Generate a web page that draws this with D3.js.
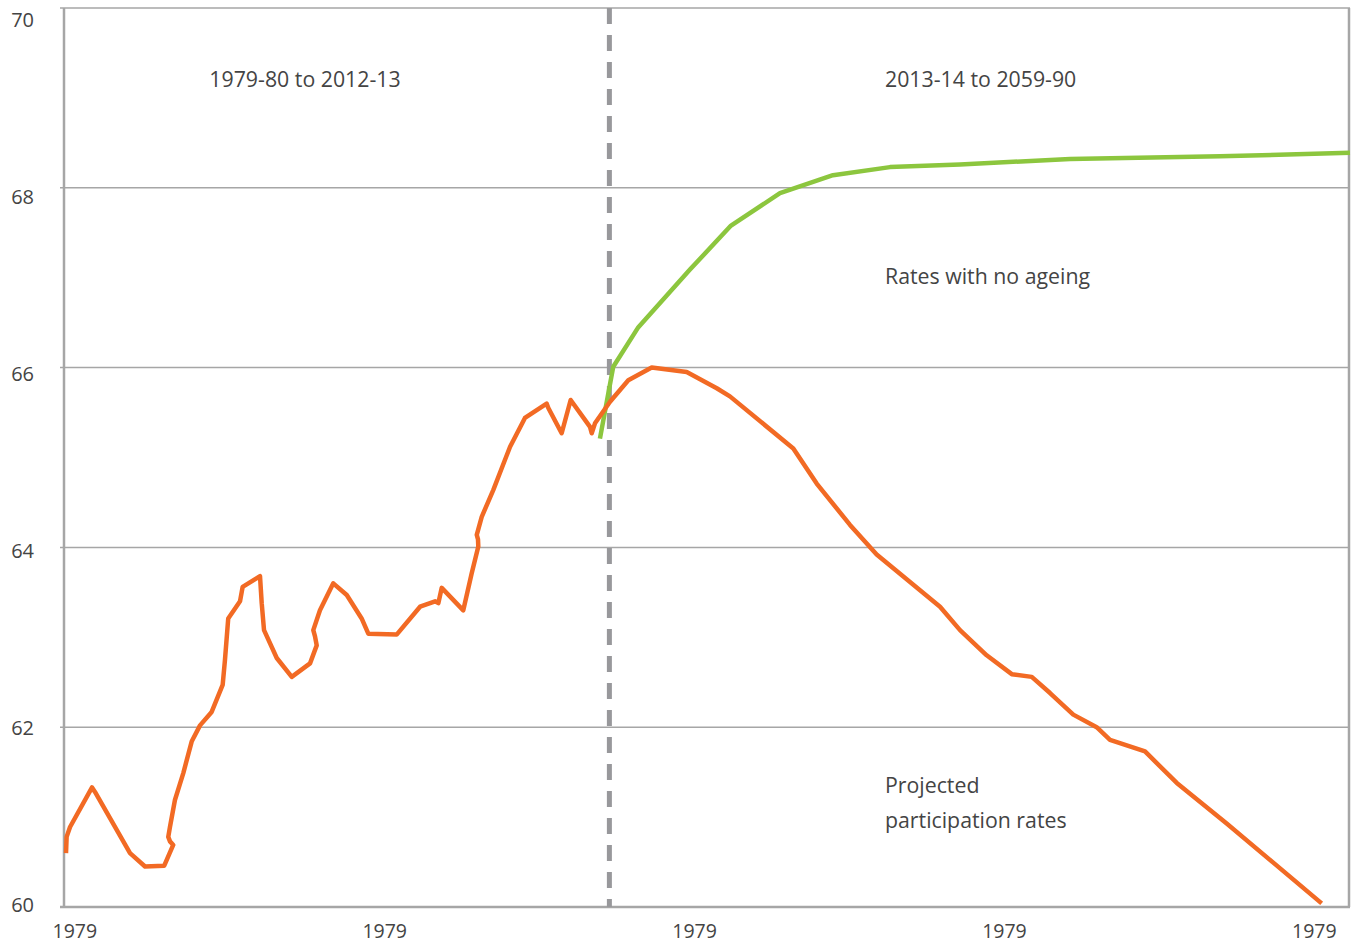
<!DOCTYPE html>
<html>
<head>
<meta charset="utf-8">
<script src="https://cdn.jsdelivr.net/npm/d3@7"></script>
<style>
  body { margin: 0; background: #fff; }
  text { font-family: "Open Sans", "Noto Sans", sans-serif; fill: #444; }
</style>
</head>
<body>
<div id="chart"></div>
<script>
// values (x in fractional years, y in %)
let histYears = [1978.43, 1978.47, 1978.69, 1980.11, 1980.30, 1982.56, 1983.53, 1984.77, 1985.35, 1985.14,
    1985.03, 1985.14, 1985.46, 1986.00, 1986.54, 1987.08, 1987.83, 1988.54, 1988.69, 1988.90,
    1989.66, 1989.83, 1990.95, 1991.06, 1991.21, 1992.03, 1993.00, 1994.18, 1994.61, 1994.50,
    1994.39, 1994.82, 1995.68, 1996.55, 1997.51, 1997.94, 1999.77, 2001.28, 2002.25, 2002.46,
    2002.68, 2004.07, 2004.61, 2005.04, 2005.02, 2004.94, 2005.26, 2006.01, 2007.09, 2008.05,
    2009.45, 2009.56, 2010.42, 2011.00, 2012.25, 2012.36, 2012.57];
let histRates = [60.60, 60.78, 60.89, 61.33, 61.28, 60.60, 60.45, 60.46, 60.69, 60.73,
    60.78, 60.89, 61.19, 61.49, 61.84, 62.02, 62.17, 62.47, 62.75, 63.21,
    63.40, 63.56, 63.68, 63.38, 63.08, 62.77, 62.56, 62.71, 62.91, 63.01,
    63.08, 63.30, 63.60, 63.47, 63.21, 63.04, 63.03, 63.34, 63.40, 63.38,
    63.55, 63.30, 63.71, 64.01, 64.09, 64.14, 64.34, 64.64, 65.12, 65.44,
    65.60, 65.55, 65.27, 65.64, 65.34, 65.27, 65.38];

let projYears = [2013.54, 2014.72, 2016.23, 2018.49, 2020.43, 2021.28, 2025.37, 2026.88, 2029.03, 2030.75,
    2034.84, 2036.13, 2037.85, 2039.47, 2040.76, 2041.94, 2043.44, 2044.95, 2045.81, 2048.07,
    2050.12, 2053.34, 2059.47];
let projRates = [65.62, 65.86, 66.00, 65.95, 65.77, 65.68, 65.10, 64.71, 64.25, 63.92,
    63.34, 63.08, 62.80, 62.59, 62.56, 62.38, 62.14, 62.00, 61.86, 61.73,
    61.38, 60.93, 60.04];

let noAgeYears = [2012.89, 2013.75, 2015.37, 2018.70, 2021.35, 2024.51, 2027.93, 2031.61, 2036.13, 2043.23,
    2052.91, 2061.3];
let noAgeRates = [65.21, 66.01, 66.45, 67.09, 67.58, 67.94, 68.14, 68.23, 68.26, 68.32,
    68.35, 68.39];

let xTicks = [1979, 1999, 2019, 2039, 2059];
let xTickLabels = ["1979", "1979", "1979", "1979", "1979"];
let yTicks = [60, 62, 64, 66, 68, 70];
let splitYear = 2013.5;

let svgWidth = 1354;
let svgHeight = 943;
let margin = { top: 8, right: 4, bottom: 36, left: 64 };
let width = svgWidth - margin.left - margin.right;
let height = svgHeight - margin.top - margin.bottom;

let svg = d3.select("#chart")
    .append("svg")
    .attr("width", svgWidth)
    .attr("height", svgHeight);

let chartGroup = svg.append("g")
    .attr("transform", `translate(${margin.left}, ${margin.top})`);

let xScale = d3.scaleLinear().domain([1978.3, 2061.3]).range([0, width]);
let yScale = d3.scaleLinear().domain([60, 70]).range([height, 0]);
// the tick labels sit on a slightly tighter spacing than the gridlines
let yLabelScale = d3.scaleLinear().domain([60, 70]).range([height - 2, 12]);

// gridlines
chartGroup.append("g")
    .selectAll("line")
    .data(yTicks.slice(1))
    .enter()
    .append("line")
    .attr("x1", -4)
    .attr("x2", width)
    .attr("y1", d => yScale(d))
    .attr("y2", d => yScale(d))
    .attr("stroke", "#a6a6a6")
    .attr("stroke-width", 1.5);

// y labels
chartGroup.append("g")
    .selectAll("text")
    .data(yTicks)
    .enter()
    .append("text")
    .attr("x", -30)
    .attr("y", d => yLabelScale(d))
    .attr("dy", "0.36em")
    .attr("text-anchor", "end")
    .attr("font-size", 20)
    .text(d => d);

// x labels
chartGroup.append("g")
    .selectAll("text")
    .data(xTicks)
    .enter()
    .append("text")
    .attr("x", d => xScale(d))
    .attr("y", height + 31)
    .attr("text-anchor", "middle")
    .attr("font-size", 19.5)
    .text((d, i) => xTickLabels[i]);

// frame: left axis, bottom axis, right border
chartGroup.append("line")
    .attr("x1", 0).attr("x2", 0)
    .attr("y1", 0).attr("y2", height)
    .attr("stroke", "#a6a6a6").attr("stroke-width", 2.5);
chartGroup.append("line")
    .attr("x1", -4).attr("x2", width)
    .attr("y1", height).attr("y2", height)
    .attr("stroke", "#a6a6a6").attr("stroke-width", 2.5);
chartGroup.append("line")
    .attr("x1", width - 1).attr("x2", width - 1)
    .attr("y1", 0).attr("y2", height)
    .attr("stroke", "#a6a6a6").attr("stroke-width", 2.5);

// split between history and projection
chartGroup.append("line")
    .attr("x1", xScale(splitYear)).attr("x2", xScale(splitYear))
    .attr("y1", 0).attr("y2", height)
    .attr("stroke", "#98989b")
    .attr("stroke-width", 5)
    .attr("stroke-dasharray", "16,11");

let line = d3.line()
    .x(d => xScale(d[0]))
    .y(d => yScale(d[1]));

let orangeData = histYears.map((y, i) => [y, histRates[i]])
    .concat(projYears.map((y, i) => [y, projRates[i]]));
let greenData = noAgeYears.map((y, i) => [y, noAgeRates[i]]);

chartGroup.append("path")
    .datum(greenData)
    .attr("d", line)
    .attr("fill", "none")
    .attr("stroke", "#8cc63e")
    .attr("stroke-width", 4.5)
    .attr("stroke-linejoin", "round");

chartGroup.append("path")
    .datum(orangeData)
    .attr("d", line)
    .attr("fill", "none")
    .attr("stroke", "#f26a24")
    .attr("stroke-width", 4.5)
    .attr("stroke-linejoin", "round");

// annotations
let notes = [
    { t: "1979-80 to 2012-13", x: 305, y: 87, anchor: "middle" },
    { t: "2013-14 to 2059-90", x: 885, y: 87, anchor: "start" },
    { t: "Rates with no ageing", x: 885, y: 284, anchor: "start" },
    { t: "Projected", x: 885, y: 793, anchor: "start" },
    { t: "participation rates", x: 885, y: 828, anchor: "start" }
];
svg.append("g")
    .selectAll("text")
    .data(notes)
    .enter()
    .append("text")
    .attr("x", d => d.x)
    .attr("y", d => d.y)
    .attr("text-anchor", d => d.anchor)
    .attr("font-size", 21.3)
    .text(d => d.t);
</script>
</body>
</html>
